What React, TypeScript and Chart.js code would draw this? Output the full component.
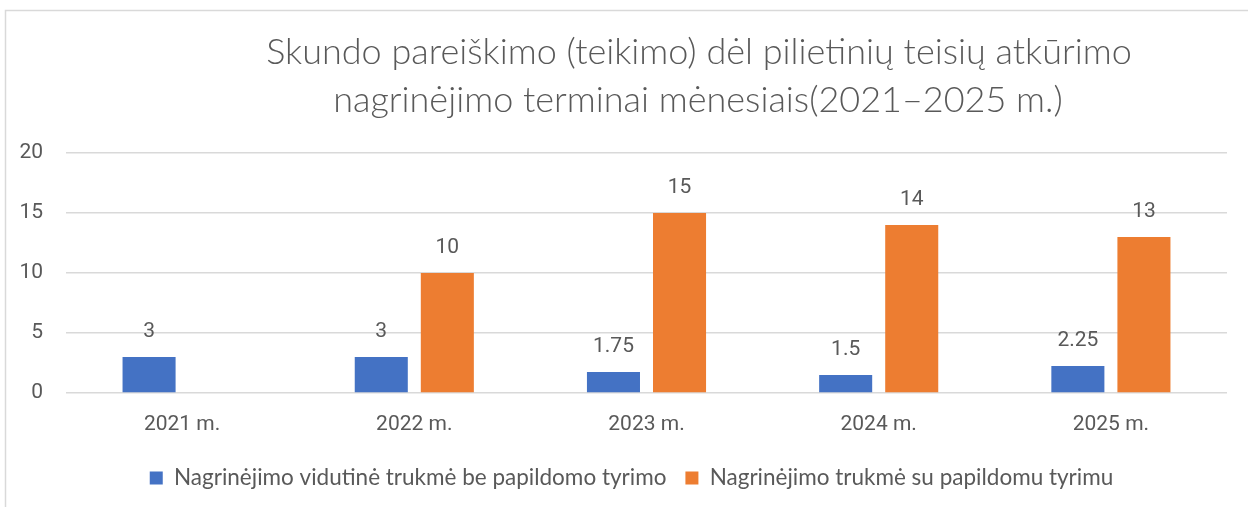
import React, { useEffect, useRef } from "react";
import { Chart, registerables } from "chart.js";

Chart.register(...registerables);

const categories = ["2021 m.", "2022 m.", "2023 m.", "2024 m.", "2025 m."];
const seriesNames = [
  "Nagrinėjimo vidutinė trukmė be papildomo tyrimo",
  "Nagrinėjimo trukmė su papildomu tyrimu",
];
const withoutExtra = [3, 3, 1.75, 1.5, 2.25];
const withExtra: (number | null)[] = [null, 10, 15, 14, 13];
const yTicks = [0, 5, 10, 15, 20];
const titleLines = [
  "Skundo pareiškimo (teikimo) dėl pilietinių teisių atkūrimo",
  "nagrinėjimo terminai mėnesiais(2021–2025 m.)",
];

const TEXT = "#595959";

const decorPlugin = {
  id: "decor",
  beforeDraw(chart: any) {
    const ctx = chart.ctx;
    ctx.save();
    ctx.fillStyle = "#ffffff";
    ctx.fillRect(0, 0, chart.width, chart.height);
    ctx.strokeStyle = "#d9d9d9";
    ctx.lineWidth = 1.5;
    ctx.beginPath();
    ctx.moveTo(5.5, chart.height + 2);
    ctx.lineTo(5.5, 10.5);
    ctx.lineTo(chart.width + 2, 10.5);
    ctx.stroke();
    // title
    ctx.fillStyle = TEXT;
    ctx.textAlign = "center";
    ctx.textBaseline = "middle";
    ctx.font = "300 36px Lato";
    ctx.fillText(titleLines[0], 699, 52);
    ctx.fillText(titleLines[1], 698, 100);
    ctx.restore();
  },
  afterDatasetsDraw(chart: any) {
    const ctx = chart.ctx;
    ctx.save();
    ctx.fillStyle = TEXT;
    ctx.textAlign = "center";
    ctx.textBaseline = "middle";
    ctx.font = "21px Roboto";
    chart.data.datasets.forEach((ds: any, i: number) => {
      if (ds.yAxisID === "y2") return;
      const meta = chart.getDatasetMeta(i);
      meta.data.forEach((bar: any, j: number) => {
        const v = ds.data[j];
        if (v === null || v === undefined) return;
        ctx.fillText(String(v), bar.x, bar.y - 25);
      });
    });
    ctx.restore();
  },
};

export default function App() {
  const ref = useRef<HTMLCanvasElement | null>(null);
  useEffect(() => {
    document.body.style.margin = "0";
    if (!ref.current) return;
    const chart = new Chart(ref.current, {
      type: "bar",
      data: {
        labels: categories,
        datasets: [
          {
            label: seriesNames[0],
            data: withoutExtra,
            backgroundColor: "#4472C4",
            categoryPercentage: 0.569,
            barPercentage: 0.803,
          },
          {
            label: seriesNames[1],
            data: withExtra,
            backgroundColor: "#ED7D31",
            categoryPercentage: 0.569,
            barPercentage: 0.803,
          },
        ],
      },
      options: {
        responsive: false,
        animation: false,
        devicePixelRatio: 1,
        layout: { padding: { top: 153, left: 15, right: 0, bottom: 7.75 } },
        plugins: {
          title: { display: false },
          tooltip: { enabled: false },
          legend: {
            position: "bottom",
            labels: {
              boxWidth: 13,
              boxHeight: 13,
              padding: 19,
              color: TEXT,
              font: { family: "Lato", size: 22.5 },
            },
          },
        },
        scales: {
          x: {
            grid: { display: false },
            border: { display: false },
            ticks: { color: TEXT, font: { family: "Roboto", size: 21 }, padding: 11 },
            afterFit(scale: any) {
              scale.height = 54.75;
            },
          },
          y: {
            min: 0,
            max: 20,
            afterBuildTicks(scale: any) {
              scale.ticks = yTicks.map((v) => ({ value: v }));
            },
            afterFit(scale: any) {
              scale.width = 51;
            },
            grid: { color: "#d9d9d9", lineWidth: 1.5, drawTicks: false },
            border: { display: false },
            ticks: { color: TEXT, font: { family: "Roboto", size: 21 }, padding: 23 },
          },
          yRight: {
            position: "right",
            display: true,
            min: 0,
            max: 20,
            grid: { display: false, drawTicks: false },
            border: { display: false },
            ticks: { display: false },
            afterFit(scale: any) {
              scale.width = 21;
            },
          },
        },
      },
      plugins: [decorPlugin],
    } as any);
    return () => chart.destroy();
  }, []);
  return (
    <div style={{ width: 1248, height: 507 }}>
      <canvas ref={ref} width={1248} height={507} style={{ display: "block" }} />
    </div>
  );
}
